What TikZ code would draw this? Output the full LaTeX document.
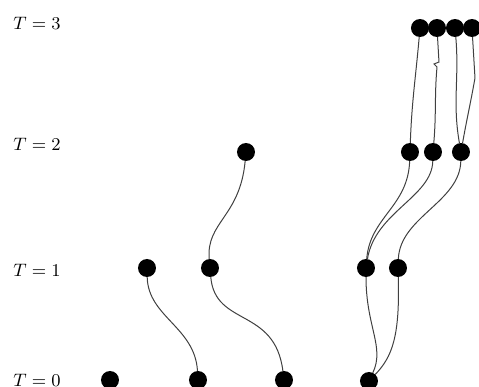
\documentclass[tikz,border=0pt]{standalone}
\usetikzlibrary{positioning}
\begin{document}
\begin{tikzpicture}[
                x=0.5pt, y=0.5pt,
                Particle/.style={circle, fill=black, inner sep=0pt, minimum size=9pt, outer sep=0pt},
                Level/.style={font=\small, inner sep=0pt},
                Track/.style={draw=black!75, line width=0.5pt},
            ]
            \useasboundingbox (0,0) rectangle (479,387);
            % time levels
            \node [Level] (lev3) at (37,364) {$T=3$};
            \node [Level] (lev2) at (37,243) {$T=2$};
            \node [Level] (lev1) at (37,117) {$T=1$};
            \node [Level] (lev0) at (37,7) {$T=0$};
            % particles
            \node [Particle] (t0a) at (110,7) {};
            \node [Particle] (t0b) at (198,7) {};
            \node [Particle] (t0c) at (284,7) {};
            \node [Particle] (t0d) at (369,6) {};
            \node [Particle] (t1a) at (147,119) {};
            \node [Particle] (t1b) at (210,119) {};
            \node [Particle] (t1c) at (366,119) {};
            \node [Particle] (t1d) at (398,119) {};
            \node [Particle] (t2a) at (246,235) {};
            \node [Particle] (t2b) at (410,235) {};
            \node [Particle] (t2c) at (433,235) {};
            \node [Particle] (t2d) at (461,235) {};
            \node [Particle] (t3a) at (420,359) {};
            \node [Particle] (t3b) at (437,359) {};
            \node [Particle] (t3c) at (455,359) {};
            \node [Particle] (t3d) at (472,359) {};
            % tracks
            \draw [Track] (t1a) .. controls (148,70) and (195,60) .. (t0b);
            \draw [Track] (t1b) .. controls (215,60) and (275,80) .. (t0c);
            \draw [Track] (t2a) .. controls (240,170) and (206,165) .. (t1b);
            \draw [Track] (t1c) .. controls (366,60) and (385,40) .. (t0d);
            \draw [Track] (t1d) .. controls (400,50) and (392,30) .. (t0d);
            \draw [Track] (t1c) .. controls (370,170) and (408,180) .. (t2b);
            \draw [Track] (t1c) .. controls (375,175) and (432,190) .. (t2c);
            \draw [Track] (t1d) .. controls (400,170) and (460,185) .. (t2d);
            \draw [Track] (t3a) to[out=-95, in=88] (t2b);
            \draw [Track] (t3b) -- ++(2,-34) -- ++(-5,-2) -- ++(3,-3) to[out=-95, in=85] (t2c);
            \draw [Track] (t3c) to[out=-85, in=100] (t2d);
            \draw [Track] (t3d) -- ++(3,-50) to[out=-100, in=80] (t2d);
        \end{tikzpicture}
\end{document}
